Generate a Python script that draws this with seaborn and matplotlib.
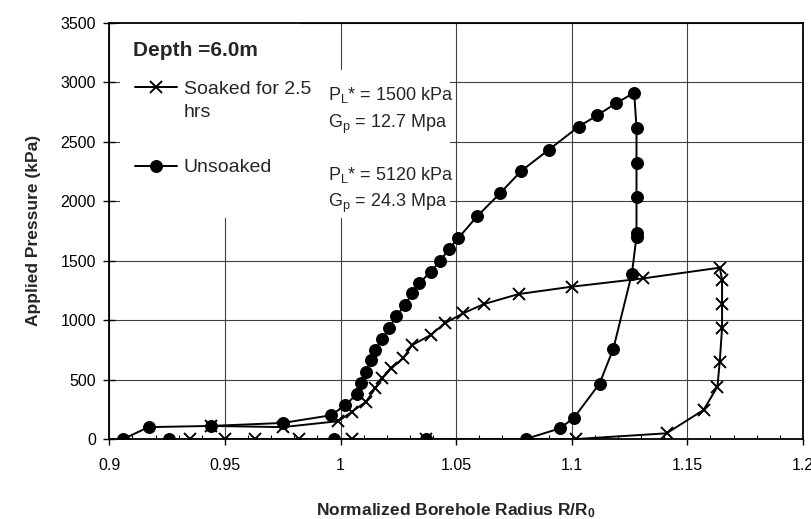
import matplotlib
matplotlib.use("Agg")
import matplotlib.pyplot as plt
import seaborn as sns
import pandas as pd
from matplotlib.patches import Rectangle
from matplotlib.ticker import MultipleLocator

# ---- data ----
unsoaked_r = [0.906, 0.917, 0.944, 0.975, 0.996, 1.002, 1.007, 1.009, 1.011, 1.013,
              1.015, 1.018, 1.021, 1.024, 1.028, 1.031, 1.034, 1.039, 1.043, 1.047,
              1.051, 1.059, 1.069, 1.078, 1.090, 1.103, 1.111, 1.119, 1.127, 1.128,
              1.128, 1.128, 1.128, 1.128, 1.126, 1.118, 1.112, 1.101, 1.095, 1.080,
              1.037, 0.997, 0.926]
unsoaked_p = [0, 100, 110, 135, 200, 285, 375, 470, 565, 660,
              750, 840, 930, 1030, 1130, 1225, 1310, 1405, 1495, 1600,
              1690, 1870, 2065, 2250, 2430, 2625, 2720, 2820, 2910, 2615,
              2320, 2035, 1730, 1700, 1390, 760, 465, 180, 90, 0,
              0, 0, 0]

soaked_r = [0.944, 0.975, 0.999, 1.005, 1.011, 1.015, 1.018, 1.022, 1.027, 1.031,
            1.039, 1.045, 1.053, 1.062, 1.077, 1.100, 1.131, 1.164, 1.165, 1.165,
            1.165, 1.164, 1.163, 1.157, 1.141, 1.102, 1.037, 1.005, 0.982, 0.963,
            0.950, 0.935]
soaked_p = [110, 100, 150, 230, 313, 426, 510, 594, 678, 790,
            874, 972, 1056, 1134, 1218, 1280, 1350, 1440, 1340, 1134,
            930, 650, 440, 244, 48, 0, 0, 0, 0, 0,
            0, 0]

x_ticks = [0.9, 0.95, 1.0, 1.05, 1.1, 1.15, 1.2]
x_tick_labels = ["0.9", "0.95", "1", "1.05", "1.1", "1.15", "1.2"]
y_ticks = [0, 500, 1000, 1500, 2000, 2500, 3000, 3500]

soaked_label = "Soaked for 2.5"
unsoaked_label = "Unsoaked"

# ---- style ----
sns.set_theme(style="white")
plt.rcParams["font.family"] = ["Liberation Sans", "DejaVu Sans"]
plt.rcParams["mathtext.fontset"] = "custom"
plt.rcParams["mathtext.rm"] = "Liberation Sans"
plt.rcParams["mathtext.it"] = "Liberation Sans:italic"
plt.rcParams["mathtext.bf"] = "Liberation Sans:bold"

fig = plt.figure(figsize=(8.12, 5.19), dpi=100)
ax = fig.add_axes([0.1346, 0.1541, 0.8543, 0.8025])

soaked_df = pd.DataFrame({"R": soaked_r, "P": soaked_p})
unsoaked_df = pd.DataFrame({"R": unsoaked_r, "P": unsoaked_p})

sns.lineplot(data=soaked_df, x="R", y="P", sort=False, estimator=None, ax=ax,
             color="black", linewidth=1.4, marker="x", markersize=9,
             markeredgewidth=1.4, markeredgecolor="black", markerfacecolor="black",
             label=soaked_label, zorder=3)
sns.lineplot(data=unsoaked_df, x="R", y="P", sort=False, estimator=None, ax=ax,
             color="black", linewidth=1.4, marker="o", markersize=8.5,
             markeredgewidth=0.8, markeredgecolor="black", markerfacecolor="black",
             label=unsoaked_label, zorder=3)

ax.set_xlim(0.9, 1.2)
ax.set_ylim(0, 3500)
ax.set_xticks(x_ticks, x_tick_labels)
ax.set_yticks(y_ticks)
ax.xaxis.set_minor_locator(MultipleLocator(0.01))

ax.grid(True, which="major", color="0.25", linewidth=0.8)
ax.set_axisbelow(True)

for s in ax.spines.values():
    s.set_visible(True)
    s.set_color("black")
    s.set_linewidth(1.3)

ax.tick_params(axis="x", which="major", bottom=True, direction="out", length=4,
               width=1, pad=10, labelsize=11.5, colors="black")
ax.tick_params(axis="x", which="minor", bottom=True, direction="in", length=3,
               width=0.8, colors="black")
ax.tick_params(axis="y", which="major", left=True, direction="inout", length=9,
               width=1, pad=5, labelsize=11.5, colors="black")

ax.set_xlabel(r"Normalized Borehole Radius R/R$_{\bf 0}$", fontsize=12.5,
              fontweight="bold", labelpad=20)
ax.set_ylabel("Applied Pressure (kPa)", fontsize=12.5, fontweight="bold", labelpad=14)

# white areas behind legend / annotations (grid hidden there)
ax.add_patch(Rectangle((0.015, 0.531), 0.476, 0.355, transform=ax.transAxes,
                       facecolor="white", edgecolor="none", zorder=1))
ax.add_patch(Rectangle((0.015, 0.886), 0.26, 0.112, transform=ax.transAxes,
                       facecolor="white", edgecolor="none", zorder=1))

leg = ax.legend(loc="upper left", bbox_to_anchor=(0.037, 0.862), borderaxespad=0,
                borderpad=0, frameon=False, fontsize=14, handlelength=2.16,
                handletextpad=0.36, labelspacing=3.15)

ax.text(0.0346, 0.9196, "Depth =6.0m", transform=ax.transAxes, fontsize=15,
        fontweight="bold", va="baseline", ha="left", zorder=6)
ax.text(0.1077, 0.7724, "hrs", transform=ax.transAxes, fontsize=14,
        va="baseline", ha="left", zorder=6)

ann_x = 0.315
ax.text(ann_x, 0.8139, r"P$_{\rm L}$* = 1500 kPa", transform=ax.transAxes,
        fontsize=13, va="baseline", ha="left", zorder=6)
ax.text(ann_x, 0.7460, r"G$_{\rm p}$ = 12.7 Mpa", transform=ax.transAxes,
        fontsize=13, va="baseline", ha="left", zorder=6)
ax.text(ann_x, 0.6218, r"P$_{\rm L}$* = 5120 kPa", transform=ax.transAxes,
        fontsize=13, va="baseline", ha="left", zorder=6)
ax.text(ann_x, 0.5577, r"G$_{\rm p}$ = 24.3 Mpa", transform=ax.transAxes,
        fontsize=13, va="baseline", ha="left", zorder=6)

fig.savefig("out.png", dpi=100, facecolor="white")
